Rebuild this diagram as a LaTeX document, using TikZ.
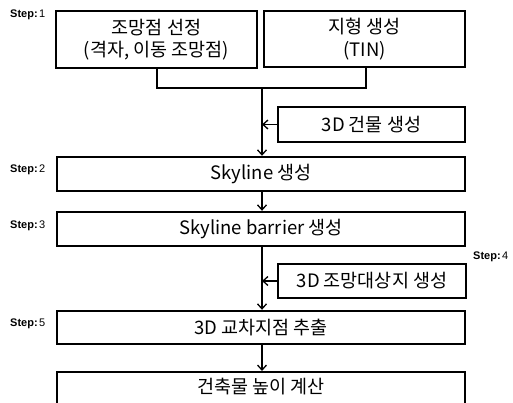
\documentclass[tikz,border=0pt]{standalone}
\usepackage{fontspec}
\setmainfont{Noto Sans CJK KR}
\newfontfamily\stepfont{Liberation Sans}
\usetikzlibrary{arrows.meta}
\tikzset{
  box/.style={draw, line width=2.4pt, inner sep=0pt, align=center,
    font=\fontsize{18.5}{22.5}\selectfont},
  conn/.style={line width=1.3pt},
  arr/.style={conn, -{Straight Barb[length=5pt,width=9pt,line width=1.3pt]}},
  steplbl/.style={inner sep=0pt, font=\stepfont\fontsize{11}{12}\selectfont}
}
\newcommand{\steptxt}[1]{\textbf{Step:}\kern1.5pt #1}
\begin{document}
\begin{tikzpicture}[x=1pt,y=-1pt]
\clip (0,0) rectangle (513,403);
\fill[white] (0,0) rectangle (513,403);
% boxes
\node[box, minimum width=201pt, minimum height=57pt] (b1) at (156.5,39.5) {조망점 선정\\(격자, 이동 조망점)};
\node[box, minimum width=201pt, minimum height=56pt] (b2) at (364.5,39) {지형 생성\\(TIN)};
\node[box, minimum width=187pt, minimum height=35pt] (bld) at (371.5,124.5) {3D 건물 생성};
\node[box, minimum width=408pt, minimum height=34pt] (sky) at (261,174) {Skyline 생성};
\node[box, minimum width=408pt, minimum height=34pt] (bar) at (261,229) {Skyline barrier 생성};
\node[box, minimum width=188pt, minimum height=34pt] (tgt) at (372,281) {3D 조망대상지 생성};
\node[box, minimum width=408pt, minimum height=33pt] (int) at (261,327.5) {3D 교차지점 추출};
\node[box, minimum width=408pt, minimum height=60pt, anchor=north] (hgt) at (261,371) {};
\node[font=\fontsize{18.5}{22.5}\selectfont, inner sep=0pt] (hgtt) at (261,387) {건축물 높이 계산};
% step labels
\node[steplbl, anchor=west] (s1) at (10,15) {\steptxt{1}};
\node[steplbl, anchor=west] (s2) at (10,170) {\steptxt{2}};
\node[steplbl, anchor=west] (s3) at (10,226) {\steptxt{3}};
\node[steplbl, anchor=west] (s4) at (473,257) {\steptxt{4}};
\node[steplbl, anchor=west] (s5) at (10,324) {\steptxt{5}};
% connectors
\coordinate (j) at (262,88);
\draw[conn] (b1.south -| 157,0) |- (j);
\draw[conn] (b2.south -| 366,0) |- (j);
\draw[arr] (j) -- (sky.north -| j);
\draw[arr] (bld.west) -- (bld.west -| j);
\draw[arr] (sky.south -| j) -- (bar.north -| j);
\draw[arr] (bar.south -| j) -- (int.north -| j);
\draw[arr] (tgt.west) -- (tgt.west -| j);
\draw[arr] (int.south -| j) -- (hgt.north -| j);
\end{tikzpicture}
\end{document}
